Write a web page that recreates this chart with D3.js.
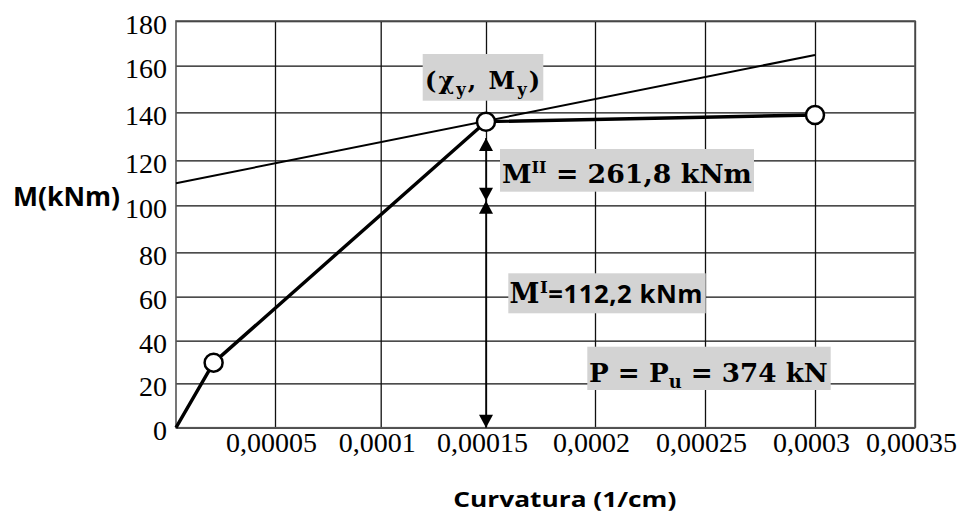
<!DOCTYPE html>
<html lang="pt">
<head>
<meta charset="UTF-8">
<script src="https://d3js.org/d3.v7.min.js"></script>
<title>Momento x Curvatura</title>
<style>
    body {margin:0; background:#fff;}
    .tick text {font-family:"Liberation Serif", "Times New Roman", serif; font-size:28px; fill:#000;}
    .math {font-family:"DejaVu Serif", serif; font-weight:bold; fill:#000;}
    .sans {font-family:"Open Sans", sans-serif; font-weight:bold; fill:#000;}
</style>
</head>
<body>
<svg width="964" height="518"></svg>
<script>
// valores
const xTickValues = [0.00005, 0.0001, 0.00015, 0.0002, 0.00025, 0.0003, 0.00035];
const xTickLabels = ["0,00005", "0,0001", "0,00015", "0,0002", "0,00025", "0,0003", "0,00035"];
const yTickValues = [0, 20, 40, 60, 80, 100, 120, 140, 160, 180];

// curva momento-curvatura (trilinear)
const curveChi = [0, 0.000019, 0.00015, 0.0003];
const curveM   = [0, 29.7, 136.1, 138.9];
const pointIdx = [1, 2, 3];

// reta tangente
const tangentChi = [0, 0.0003];
const tangentM   = [109.8, 164.8];

// cotas MI / MII (setas em chi = 0.00015)
const dimChi = 0.00015;
const dimM   = [129.3, 102, 0];

// layout
const plotL = 176, plotT = 21, plotR = 915, plotB = 427.7;
// a grade do original nao e perfeitamente uniforme
const xGridPx = [176, 275, 380.7, 486, 595, 705, 815, 915];
const yGridPx = [427.7, 383.3, 340.7, 296.7, 252.3, 205.3, 160.3, 112.3, 65.7, 21];

const svg = d3.select("svg");

const x = d3.scaleLinear().domain([0].concat(xTickValues)).range(xGridPx);
const y = d3.scaleLinear().domain(yTickValues).range(yGridPx);

// grade + eixos
const gy = svg.append("g")
    .attr("transform", "translate(" + plotL + ",0)")
    .call(d3.axisLeft(y).tickValues(yTickValues).tickSize(-(plotR - plotL)).tickPadding(9));
gy.select(".domain").remove();
gy.selectAll(".tick line").attr("stroke", "#111").attr("stroke-width", 1.3);
gy.selectAll(".tick text").attr("dy", "0.43em");

const gx = svg.append("g")
    .attr("transform", "translate(0," + plotB + ")")
    .call(d3.axisBottom(x).tickValues(xTickValues)
        .tickFormat((d, i) => xTickLabels[i])
        .tickSize(-(plotB - plotT)).tickPadding(4));
gx.select(".domain").remove();
gx.selectAll(".tick line").attr("stroke", "#111").attr("stroke-width", 1.3);
gx.selectAll(".tick text").attr("dx", -4);

svg.append("rect")
    .attr("x", plotL).attr("y", plotT)
    .attr("width", plotR - plotL).attr("height", plotB - plotT)
    .attr("fill", "none").attr("stroke", "#555").attr("stroke-width", 1.6);

const line = d3.line().x(d => x(d[0])).y(d => y(d[1]));

// tangente
svg.append("path")
    .datum(tangentChi.map((c, i) => [c, tangentM[i]]))
    .attr("d", line)
    .attr("fill", "none").attr("stroke", "#000").attr("stroke-width", 2);

// curva
svg.append("path")
    .datum(curveChi.map((c, i) => [c, curveM[i]]))
    .attr("d", line)
    .attr("fill", "none").attr("stroke", "#000").attr("stroke-width", 3.4)
    .attr("stroke-linejoin", "round");

// cotas
svg.append("line")
    .attr("x1", x(dimChi)).attr("x2", x(dimChi))
    .attr("y1", y(dimM[0])).attr("y2", y(dimM[2]))
    .attr("stroke", "#000").attr("stroke-width", 1.5);

// setas: [valor, direcao] (-1 = para cima, 1 = para baixo)
const arrows = [[dimM[0], -1], [dimM[1], 1], [dimM[1], -1], [dimM[2], 1]];
svg.selectAll(".arrow")
    .data(arrows)
    .enter()
    .append("path")
    .attr("class", "arrow")
    .attr("d", function(d) {
        const tx = x(dimChi), ty = y(d[0]);
        const by = ty - d[1] * 13;
        return "M" + tx + "," + ty + "L" + (tx - 7) + "," + by + "L" + (tx + 7) + "," + by + "Z";
    })
    .attr("fill", "#000");

// pontos
svg.selectAll("circle")
    .data(pointIdx)
    .enter()
    .append("circle")
    .attr("cx", d => x(curveChi[d]))
    .attr("cy", d => y(curveM[d]))
    .attr("r", 9)
    .attr("fill", "#fff").attr("stroke", "#000").attr("stroke-width", 2.5);

// caixas de texto
function box(bx, by, bw, bh) {
    svg.append("rect").attr("x", bx).attr("y", by).attr("width", bw).attr("height", bh)
        .attr("fill", "#d3d3d3");
}

// texto com sub/sobrescritos; ajusta ao comprimento desejado
// parts: [texto, tamanho relativo, deslocamento (em, + para baixo), classe]
function mathLabel(tx, ty, size, width, parts) {
    let s = size;
    const t = svg.append("text").attr("x", tx).attr("y", ty);
    function build() {
        t.selectAll("tspan").remove();
        let prev = 0;
        parts.forEach(p => {
            const shift = p[2] || 0;
            t.append("tspan")
                .attr("class", p[3] || "math")
                .attr("font-size", s * (p[1] || 1))
                .attr("dy", (shift - prev) * s)
                .text(p[0]);
            prev = shift;
        });
    }
    build();
    const w = t.node().getComputedTextLength();
    if (w > width) {
        s = s * width / w;
        build();
    } else {
        const n = parts.map(p => p[0]).join("").length - 1;
        if (n > 0) t.attr("letter-spacing", (width - w) / n);
    }
    return t;
}

box(422.7, 54, 120.6, 46.7);
mathLabel(425, 89, 24, 115, [["(χ"], ["y", 0.68, 0.25], [", M"], ["y", 0.68, 0.25], [")"]]);

box(500, 149, 254, 42.7);
mathLabel(502, 183.3, 29, 250, [["M"], ["II", 0.6, -0.4], [" = 261,8 kNm"]]);

box(508.3, 273.3, 197.4, 40);
mathLabel(509.5, 303.3, 27, 193, [["M"], ["I", 0.62, -0.38], ["=112,2 kNm", 0.95, 0, "sans"]]);

box(587.3, 346.7, 243.4, 43.3);
mathLabel(589, 381.7, 29, 239, [["P = P"], ["u", 0.68, 0.25], [" = 374 kN"]]);

// titulos dos eixos
svg.append("text").attr("class", "sans")
    .attr("x", 13).attr("y", 206)
    .attr("font-size", 27).attr("textLength", 107).attr("lengthAdjust", "spacingAndGlyphs")
    .text("M(kNm)");

svg.append("text").attr("class", "sans")
    .attr("x", 453.3).attr("y", 506.7)
    .attr("font-size", 22).attr("textLength", 223).attr("lengthAdjust", "spacingAndGlyphs")
    .text("Curvatura (1/cm)");
</script>
</body>
</html>
